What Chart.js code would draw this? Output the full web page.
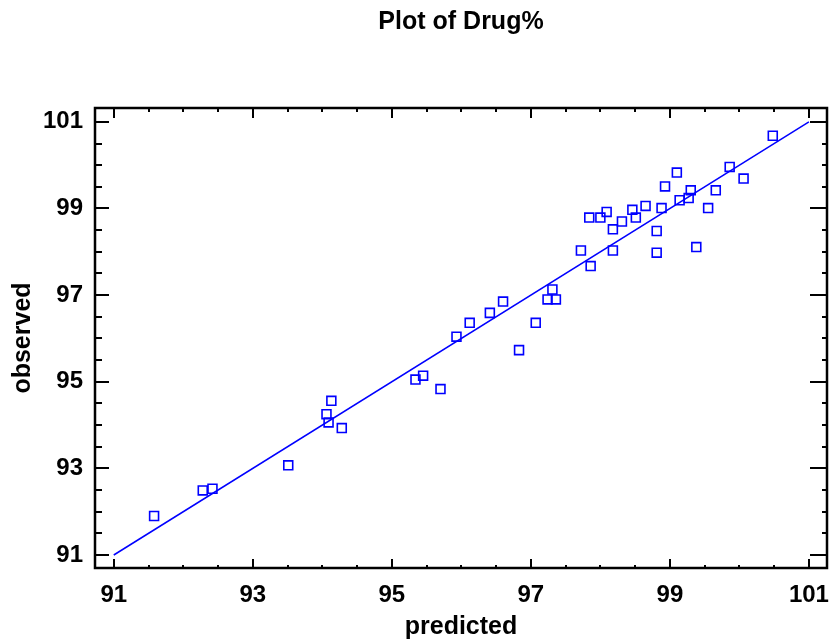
<!DOCTYPE html>
<html>
<head>
<meta charset="utf-8">
<script src="https://cdn.jsdelivr.net/npm/chart.js@4/dist/chart.umd.min.js"></script>
<style>
  html, body { margin: 0; padding: 0; background: #fff; }
  #wrap { width: 831px; height: 639px; }
</style>
</head>
<body>
<div id="wrap"><canvas id="grafico"></canvas></div>
<script>
// valores
const predicted = [100.48, 99.86, 100.06, 99.10, 98.93, 99.30, 99.66, 99.14, 99.27, 98.88,
  99.55, 98.65, 98.46, 98.09, 97.84, 98.00, 98.51, 98.31, 98.18, 98.81,
  97.72, 98.18, 98.81, 99.38, 97.86, 97.31, 97.24, 97.36, 97.07, 96.60,
  96.41, 96.12, 95.93, 91.58, 92.28, 92.42, 93.51, 94.06, 94.09, 94.13,
  94.28, 95.34, 95.45, 95.70, 96.83];
const observed = [100.68, 99.96, 99.69, 99.83, 99.51, 99.42, 99.42, 99.19, 99.24, 99.01,
  99.01, 99.06, 98.97, 98.92, 98.79, 98.79, 98.79, 98.70, 98.52, 98.48,
  98.03, 98.03, 97.98, 98.11, 97.67, 97.13, 96.90, 96.90, 96.36, 96.85,
  96.59, 96.36, 96.04, 91.90, 92.49, 92.53, 93.07, 94.25, 94.06, 94.56,
  93.93, 95.05, 95.14, 94.83, 95.73];
const fitX = [91, 101];
const fitY = [91, 101];
const xTicks = [91, 93, 95, 97, 99, 101];
const yTicks = [91, 93, 95, 97, 99, 101];
const minorStep = 0.5;

const familia = "'Liberation Sans', Arial, sans-serif";
const fonteTicks = { family: familia, size: 24, weight: 'bold' };
const fonteTitulo = { family: familia, size: 25, weight: 'bold' };
const azul = '#0000ff';

// moldura e marcas de escala para dentro
const moldura = {
  id: 'moldura',
  afterDraw(chart) {
    const ctx = chart.ctx;
    const a = chart.chartArea;
    const xs = chart.scales.x, ys = chart.scales.y;
    ctx.save();
    ctx.strokeStyle = '#000';
    ctx.lineWidth = 2;
    ctx.beginPath();
    for (let v = xTicks[0]; v <= xTicks[xTicks.length - 1] + 1e-9; v += minorStep) {
      const major = xTicks.some(t => Math.abs(t - v) < 1e-9);
      const px = Math.round(xs.getPixelForValue(v));
      ctx.moveTo(px, a.bottom); ctx.lineTo(px, a.bottom - (major ? 9 : 3));
      ctx.moveTo(px, a.top); ctx.lineTo(px, a.top + (major ? 10 : 4));
    }
    for (let v = yTicks[0]; v <= yTicks[yTicks.length - 1] + 1e-9; v += minorStep) {
      const major = yTicks.some(t => Math.abs(t - v) < 1e-9);
      const py = Math.round(ys.getPixelForValue(v));
      ctx.moveTo(a.left, py); ctx.lineTo(a.left + (major ? 14 : 7), py);
      ctx.moveTo(a.right, py); ctx.lineTo(a.right - (major ? 17 : 5), py);
    }
    ctx.stroke();
    ctx.lineWidth = 2.5;
    ctx.strokeRect(a.left, a.top, a.right - a.left, a.bottom - a.top);
    ctx.restore();
  }
};

const pontos = predicted.map((p, i) => ({ x: p, y: observed[i] }));
const reta = fitX.map((p, i) => ({ x: p, y: fitY[i] }));

new Chart(document.getElementById('grafico'), {
  type: 'scatter',
  data: {
    datasets: [
      {
        type: 'line',
        data: reta,
        borderColor: azul,
        borderWidth: 1.5,
        pointRadius: 0,
        fill: false
      },
      {
        data: pontos,
        pointStyle: 'rect',
        pointRadius: 6.3,
        borderColor: azul,
        backgroundColor: 'rgba(0,0,0,0)',
        borderWidth: 1.6
      }
    ]
  },
  options: {
    responsive: true,
    maintainAspectRatio: false,
    animation: false,
    layout: { autoPadding: false, padding: { left: 4, right: 4, top: 0, bottom: 0 } },
    plugins: {
      legend: { display: false },
      tooltip: { enabled: false },
      title: {
        display: true,
        fullSize: false,
        text: 'Plot of Drug%',
        color: '#000',
        font: fonteTitulo,
        padding: { top: 7, bottom: 71 }
      }
    },
    scales: {
      x: {
        type: 'linear',
        min: 90.73,
        max: 101.26,
        grid: { display: false, drawTicks: false },
        border: { display: false },
        afterBuildTicks: s => { s.ticks = xTicks.map(v => ({ value: v })); },
        afterFit: s => { s.height = 71; s.paddingRight = 0; s.paddingLeft = 0; },
        ticks: { color: '#000', font: fonteTicks, padding: 13, maxRotation: 0 },
        title: { display: true, text: 'predicted', color: '#000', font: fonteTitulo, padding: { top: 0, bottom: -3 } }
      },
      y: {
        type: 'linear',
        min: 90.70,
        max: 101.32,
        grid: { display: false, drawTicks: false },
        border: { display: false },
        afterBuildTicks: s => { s.ticks = yTicks.map(v => ({ value: v })); },
        afterFit: s => { s.width = 91; },
        ticks: { color: '#000', font: fonteTicks, padding: 12 },
        title: { display: true, text: 'observed', color: '#000', font: fonteTitulo, padding: { top: 4, bottom: 0 } }
      }
    }
  },
  plugins: [moldura]
});
</script>
</body>
</html>
